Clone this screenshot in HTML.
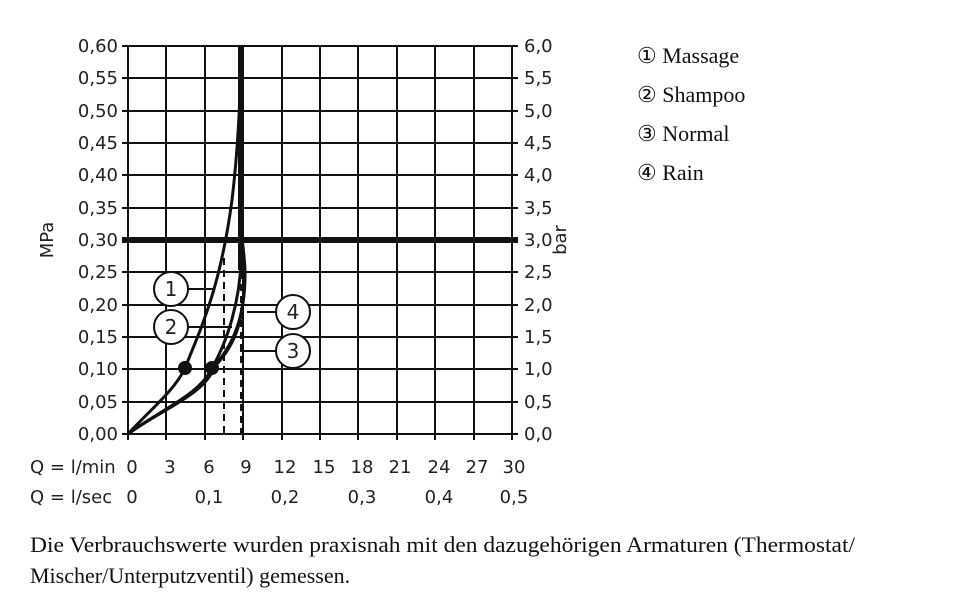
<!DOCTYPE html>
<html><head><meta charset="utf-8"><style>
html,body{margin:0;padding:0;background:#fff;width:960px;height:612px;overflow:hidden}
svg{display:block}
.t{font-family:"DejaVu Sans","Liberation Sans",sans-serif;font-size:18px;fill:#222}
.s{font-family:"Liberation Serif",serif;font-size:22px;fill:#111}
</style></head><body>
<svg width="960" height="612" viewBox="0 0 960 612" xmlns="http://www.w3.org/2000/svg">
<g stroke="#111" stroke-width="2" fill="none">
<path d="M128,46V434M166,46V434M205,46V434M243,46V434M282,46V434M320,46V434M358,46V434M397,46V434M435,46V434M474,46V434M512,46V434"/>
<path d="M128,46H512M128,78H512M128,111H512M128,143H512M128,175H512M128,208H512M128,272H512M128,305H512M128,337H512M128,369H512M128,402H512M128,434H512"/>
<path d="M122,46H128M122,78H128M122,111H128M122,143H128M122,175H128M122,208H128M122,240H128M122,272H128M122,305H128M122,337H128M122,369H128M122,402H128M122,434H128"/>
<path d="M512,46H518M512,78H518M512,111H518M512,143H518M512,175H518M512,208H518M512,240H518M512,272H518M512,305H518M512,337H518M512,369H518M512,402H518M512,434H518"/>
<path d="M128,434v6M166,434v6M205,434v6M243,434v6M282,434v6M320,434v6M358,434v6M397,434v6M435,434v6M474,434v6M512,434v6"/>
</g>
<path d="M122,240H518" stroke="#111" stroke-width="6"/>
<path d="M241,46V270" stroke="#111" stroke-width="6"/>
<g stroke="#111" stroke-width="2" stroke-dasharray="7,5"><path d="M224,258V434M241,260V434"/></g>
<g stroke="#111" stroke-width="3" fill="none">
<path d="M128,434 C150,410 175,390 185,368 C200,330 220,290 232,200 C238,150 240,100 240,84"/>
<path d="M128,434 C160,410 200,395 212,368 C228,340 240,300 241,260"/>
<path d="M128,434 C160,410 200,395 212,368 C230,350 246,320 245,270 C244,250 242,240 241,230"/>
<path d="M128,434 C160,410 205,395 215,366 C235,345 246,320 244,265"/>
</g>
<circle cx="185" cy="368" r="7" fill="#111"/>
<circle cx="212" cy="368" r="7" fill="#111"/>
<g stroke="#111" stroke-width="2" fill="#fff">
<path d="M187,289H213M187,327H232M277,312H247M277,351H240" fill="none"/>
<circle cx="171" cy="289" r="17"/><circle cx="171" cy="327" r="17"/>
<circle cx="293" cy="312" r="17"/><circle cx="293" cy="351" r="17"/>
</g>
<g class="t" text-anchor="middle">
<text x="171" y="296" style="font-size:20px">1</text><text x="171" y="334" style="font-size:20px">2</text>
<text x="293" y="319" style="font-size:20px">4</text><text x="293" y="358" style="font-size:20px">3</text>
</g>
<g class="t" text-anchor="end">
<text x="118" y="52">0,60</text><text x="118" y="84">0,55</text><text x="118" y="117">0,50</text><text x="118" y="149">0,45</text><text x="118" y="181">0,40</text><text x="118" y="214">0,35</text><text x="118" y="246">0,30</text><text x="118" y="278">0,25</text><text x="118" y="311">0,20</text><text x="118" y="343">0,15</text><text x="118" y="375">0,10</text><text x="118" y="408">0,05</text><text x="118" y="440">0,00</text>
</g>
<g class="t">
<text x="524" y="52">6,0</text><text x="524" y="84">5,5</text><text x="524" y="117">5,0</text><text x="524" y="149">4,5</text><text x="524" y="181">4,0</text><text x="524" y="214">3,5</text><text x="524" y="246">3,0</text><text x="524" y="278">2,5</text><text x="524" y="311">2,0</text><text x="524" y="343">1,5</text><text x="524" y="375">1,0</text><text x="524" y="408">0,5</text><text x="524" y="440">0,0</text>
</g>
<text class="t" transform="translate(53,240) rotate(-90)" text-anchor="middle">MPa</text>
<text class="t" transform="translate(566,240) rotate(-90)" text-anchor="middle">bar</text>
<g class="t">
<text x="30" y="473">Q = l/min</text><text x="30" y="503">Q = l/sec</text>
</g>
<g class="t" text-anchor="middle">
<text x="132" y="473">0</text><text x="170" y="473">3</text><text x="209" y="473">6</text><text x="246" y="473">9</text><text x="285" y="473">12</text><text x="324" y="473">15</text><text x="362" y="473">18</text><text x="400" y="473">21</text><text x="439" y="473">24</text><text x="477" y="473">27</text><text x="514" y="473">30</text>
<text x="132" y="503">0</text><text x="209" y="503">0,1</text><text x="285" y="503">0,2</text><text x="362" y="503">0,3</text><text x="439" y="503">0,4</text><text x="514" y="503">0,5</text>
</g>
<g class="s">
<text x="637" y="63">① Massage</text><text x="637" y="102">② Shampoo</text><text x="637" y="141">③ Normal</text><text x="637" y="180">④ Rain</text>
<text x="30" y="552" textLength="825" lengthAdjust="spacingAndGlyphs">Die Verbrauchswerte wurden praxisnah mit den dazugehörigen Armaturen (Thermostat/</text>
<text x="30" y="583">Mischer/Unterputzventil) gemessen.</text>
</g>
</svg>
</body></html>
